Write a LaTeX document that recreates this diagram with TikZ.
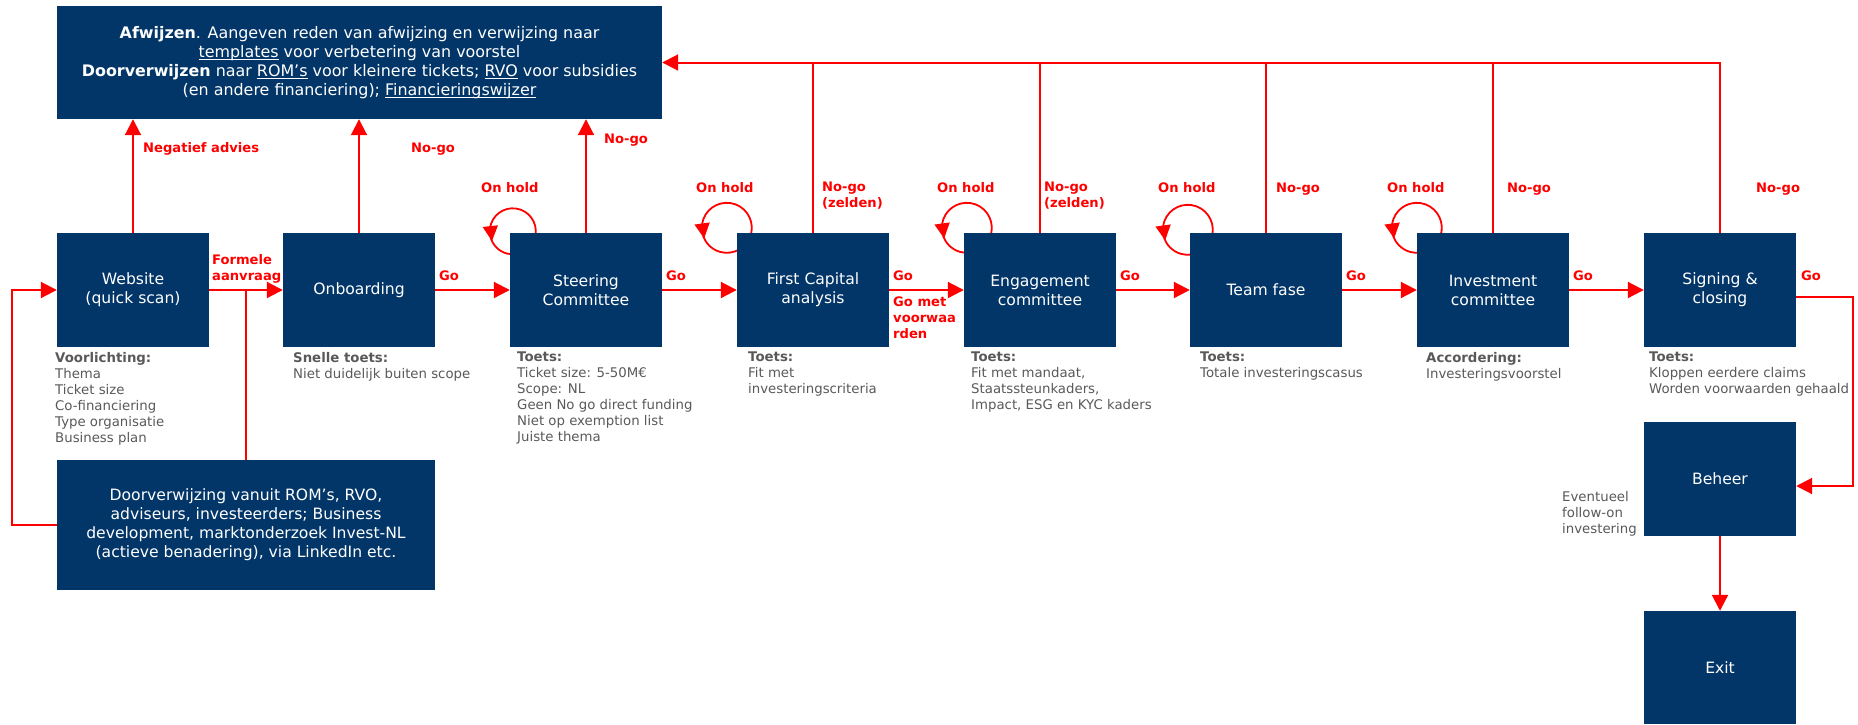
\documentclass[tikz,border=0pt]{standalone}
\usepackage{fontspec}
\setmainfont{DejaVu Sans}
\usetikzlibrary{arrows.meta,bending,backgrounds}
\definecolor{navy}{RGB}{3,54,104}
\definecolor{greytxt}{RGB}{89,89,89}
\newcommand\myul[1]{\setbox0\hbox{#1}\rlap{\rule[-2.4pt]{\wd0}{0.9pt}}\box0\relax}
\newcommand\holdloop[4]{%
  \coordinate (#1c) at ([shift={(#2,#3)}]#1.north west);
  \draw[loopl,-{Triangle[length=15pt,width=15pt,flex]}] (#1c) ++(20:#4) arc[start angle=20,end angle=-205,radius=#4];
  \draw[loopl] (#1c) ++(-195:#4) arc[start angle=-195,end angle=-300,radius=#4];
}
\begin{document}
\begin{tikzpicture}[x=1pt,y=-1pt,
  box/.style={fill=navy, text=white, minimum width=152pt, minimum height=114pt, inner sep=2pt, align=center, font=\fontsize{15.6}{19}\selectfont},
  lab/.style={text=red, font=\bfseries\fontsize{13.1}{16}\selectfont, inner sep=0pt, anchor=base west, align=left},
  note/.style={text=greytxt, font=\fontsize{13.3}{16}\selectfont, inner sep=0pt, anchor=north west, align=left},
  arr/.style={draw=red, line width=2pt, -{Triangle[length=16pt,width=16pt]}},
  feed/.style={draw=red, line width=1.6pt},
  loopl/.style={draw=red, line width=1.8pt}]
\useasboundingbox (0,0) rectangle (1858,724);

% boxes
\node[box, minimum width=605pt, minimum height=113pt, font=\fontsize{15.9}{19}\selectfont] (top) at (359.5,62.5)
  {\textbf{Afwijzen}. Aangeven reden van afwijzing en verwijzing naar\\
   \myul{templates} voor verbetering van voorstel\\
   \textbf{Doorverwijzen} naar \myul{ROM’s} voor kleinere tickets; \myul{RVO} voor subsidies\\
   (en andere financiering); \myul{Financieringswijzer}};
\node[box] (web) at (133,290) {Website\\(quick scan)};
\node[box] (onb) at (359,290) {Onboarding};
\node[box] (steer) at (586,290) {Steering\\Committee};
\node[box] (fc) at (813,290) {First Capital\\analysis};
\node[box] (eng) at (1040,290) {Engagement\\committee};
\node[box] (team) at (1266,290) {Team fase};
\node[box] (inv) at (1493,290) {Investment\\committee};
\node[box] (sign) at (1720,290) {Signing \&\\closing};
\node[box] (beh) at (1720,479) {Beheer};
\node[box, minimum height=113pt] (exit) at (1720,667.5) {Exit};
\node[box, minimum width=378pt, minimum height=130pt] (door) at (246,525)
  {Doorverwijzing vanuit ROM’s, RVO,\\adviseurs, investeerders; Business\\development, marktonderzoek Invest-NL\\(actieve benadering), via LinkedIn etc.};

% connectors
\begin{scope}[on background layer]
\draw[arr] (web.east) -- (onb.west);
\draw[arr] (onb.east) -- (steer.west);
\draw[arr] (steer.east) -- (fc.west);
\draw[arr] (fc.east) -- (eng.west);
\draw[arr] (eng.east) -- (team.west);
\draw[arr] (team.east) -- (inv.west);
\draw[arr] (inv.east) -- (sign.west);
\draw[arr] ([yshift=-7pt]sign.east) -- ++(57,0) |- ([yshift=-7pt]beh.east);
\draw[arr] (beh.south) -- (exit.north);
\draw[arr] (door.west) -- ++(-45,0) |- (web.west);
\draw[feed, line width=2pt] (door.north) -- (door.north |- web.east);
\draw[arr] (web.north) -- (web.north |- top.south);
\draw[arr] (onb.north) -- (onb.north |- top.south);
\draw[arr] (steer.north) -- (steer.north |- top.south);
\draw[arr] (sign.north) |- (top.east);
\draw[feed] (fc.north) -- (fc.north |- top.east);
\draw[feed] (eng.north) -- (eng.north |- top.east);
\draw[feed] (team.north) -- (team.north |- top.east);
\draw[feed] (inv.north) -- (inv.north |- top.east);
\holdloop{steer}{3}{-1.5}{23}
\holdloop{fc}{-10}{-5}{25}
\holdloop{eng}{3}{-5}{25}
\holdloop{team}{-2}{-3}{25}
\holdloop{inv}{0}{-5}{25}
\end{scope}

% red labels
\node[lab] (la1) at (143,152) {Negatief advies};
\node[lab] (la2) at (411,152) {No-go};
\node[lab] (la3) at (604,143) {No-go};
\node[lab, anchor=north west] (la4) at (212,254) {Formele\\aanvraag};
\node[lab] (g1) at (439,280) {Go};
\node[lab] (g2) at (666,280) {Go};
\node[lab] (g3) at (893,280) {Go};
\node[lab] (g4) at (1120,280) {Go};
\node[lab] (g5) at (1346,280) {Go};
\node[lab] (g6) at (1573,280) {Go};
\node[lab] (g7) at (1801,280) {Go};
\node[lab, anchor=north west] (gmv) at (893,297) {Go met\\voorwaa\\rden};
\node[lab] (h1) at (481,192) {On hold};
\node[lab] (h2) at (696,192) {On hold};
\node[lab] (h3) at (937,192) {On hold};
\node[lab] (h4) at (1158,192) {On hold};
\node[lab] (h5) at (1387,192) {On hold};
\node[lab, anchor=north west] (z1) at (822,182) {No-go\\(zelden)};
\node[lab, anchor=north west] (z2) at (1044,182) {No-go\\(zelden)};
\node[lab] (n1) at (1276,192) {No-go};
\node[lab] (n2) at (1507,192) {No-go};
\node[lab] (n3) at (1756,192) {No-go};

% notes
\node[note] (t1) at (55,352) {\textbf{Voorlichting:}\\Thema\\Ticket size\\Co-financiering\\Type organisatie\\Business plan};
\node[note] (t2) at (293,352) {\textbf{Snelle toets:}\\Niet duidelijk buiten scope};
\node[note] (t3) at (517,352) {\textbf{Toets:}\\Ticket size: 5-50M€\\Scope: NL\\Geen No go direct funding\\Niet op exemption list\\Juiste thema};
\node[note] (t4) at (748,352) {\textbf{Toets:}\\Fit met\\investeringscriteria};
\node[note] (t5) at (971,352) {\textbf{Toets:}\\Fit met mandaat,\\Staatssteunkaders,\\Impact, ESG en KYC kaders};
\node[note] (t6) at (1200,352) {\textbf{Toets:}\\Totale investeringscasus};
\node[note] (t7) at (1426,352) {\textbf{Accordering:}\\Investeringsvoorstel};
\node[note] (t8) at (1649,352) {\textbf{Toets:}\\Kloppen eerdere claims\\Worden voorwaarden gehaald};
\node[note] (t9) at (1562,491.6) {Eventueel\\follow-on\\investering};
\end{tikzpicture}
\end{document}
